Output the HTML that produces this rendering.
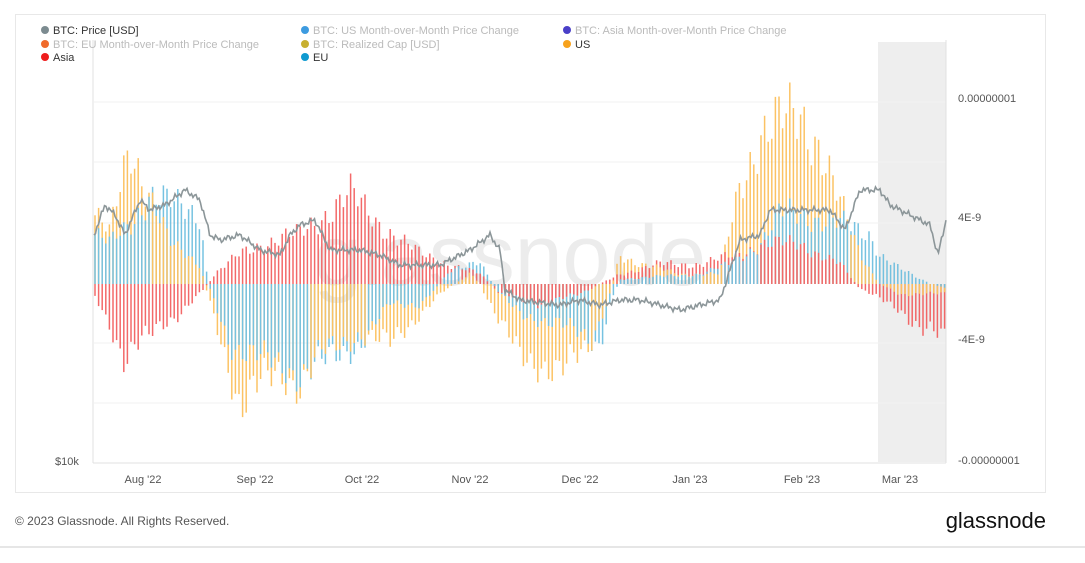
<!DOCTYPE html>
<html><head><meta charset="utf-8"><style>
body{margin:0;width:1085px;height:563px;background:#fff;font-family:"Liberation Sans",sans-serif;overflow:hidden;position:relative}
.card{position:absolute;left:15px;top:14px;width:1031px;height:479px;border:1px solid #e8e8e8;box-sizing:border-box}
.lg{position:absolute;font-size:11px;color:#333;white-space:nowrap}
.lg i{display:inline-block;width:8px;height:8px;border-radius:50%;margin-right:4px;vertical-align:-0px}
.f{color:#bbb}
</style></head><body>
<div class="card"></div>
<svg width="1085" height="563" style="position:absolute;left:0;top:0" id="s">
<rect x="878" y="42" width="68" height="420" fill="#eeeeee"/>
<g stroke="#f2f2f2" stroke-width="1">
<line x1="94" x2="946" y1="102" y2="102"/><line x1="94" x2="946" y1="162" y2="162"/><line x1="94" x2="946" y1="223" y2="223"/><line x1="94" x2="946" y1="343" y2="343"/><line x1="94" x2="946" y1="403" y2="403"/>
</g>
<line x1="93" x2="93" y1="40" y2="463" stroke="#e0e0e0"/>
<line x1="946" x2="946" y1="40" y2="463" stroke="#e0e0e0"/>
<line x1="93" x2="946" y1="463" y2="463" stroke="#e0e0e0"/>
<text x="510" y="285" font-size="86" fill="#ececec" text-anchor="middle" font-family="Liberation Sans,sans-serif">glassnode</text>
<g id="bars" opacity="0.85"></g>
<polyline id="pl" fill="none" stroke="#8c9699" stroke-width="1.6"/>
<g font-size="11" fill="#555">
<text x="958" y="102">0.00000001</text><text x="958" y="221">4E-9</text><text x="958" y="343">-4E-9</text><text x="958" y="464">-0.00000001</text>
<text x="55" y="465">$10k</text>
<g text-anchor="middle"><text x="143" y="483">Aug '22</text><text x="255" y="483">Sep '22</text><text x="362" y="483">Oct '22</text><text x="470" y="483">Nov '22</text><text x="580" y="483">Dec '22</text><text x="690" y="483">Jan '23</text><text x="802" y="483">Feb '23</text><text x="900" y="483">Mar '23</text></g>
</g>
<text x="15" y="525" font-size="12" fill="#555">© 2023 Glassnode. All Rights Reserved.</text>
<text x="1046" y="528" font-size="22" fill="#111" text-anchor="end">glassnode</text>
<line x1="0" x2="1085" y1="547" y2="547" stroke="#ccc"/>
</svg>
<div class="lg" style="left:41px;top:25px"><i style="background:#7c8b90"></i>BTC: Price [USD]</div>
<div class="lg f" style="left:301px;top:25px"><i style="background:#3d9be0"></i>BTC: US Month-over-Month Price Change</div>
<div class="lg f" style="left:563px;top:25px"><i style="background:#4a3fc8"></i>BTC: Asia Month-over-Month Price Change</div>
<div class="lg f" style="left:41px;top:39px"><i style="background:#f06a2a"></i>BTC: EU Month-over-Month Price Change</div>
<div class="lg f" style="left:301px;top:39px"><i style="background:#c8b030"></i>BTC: Realized Cap [USD]</div>
<div class="lg" style="left:563px;top:39px"><i style="background:#f7a21c"></i>US</div>
<div class="lg" style="left:41px;top:52px"><i style="background:#ee1c1c"></i>Asia</div>
<div class="lg" style="left:301px;top:52px"><i style="background:#0f9ad0"></i>EU</div>
<script>
function interp(k,x){for(let i=0;i<k.length-1;i++){if(x>=k[i][0]&&x<=k[i+1][0]){let t=(x-k[i][0])/(k[i+1][0]-k[i][0]);return k[i][1]+t*(k[i+1][1]-k[i][1]);}}return k[k.length-1][1];}
const EU=[[94,50],[110,40],[130,60],[150,90],[170,80],[200,70],[208,0],[230,-60],[250,-70],[280,-80],[300,-90],[330,-75],[360,-60],[390,-20],[420,-20],[440,0],[450,15],[480,20],[500,-10],[520,-30],[560,-40],[600,-60],[610,-20],[620,5],[700,10],[730,20],[760,40],[780,70],[800,70],[840,60],[870,50],[880,30],[900,15],[920,5],[946,-5]];
const AS=[[94,-10],[110,-40],[125,-80],[140,-60],[160,-40],[180,-30],[200,-10],[215,10],[240,30],[260,40],[300,50],[350,90],[380,60],[420,30],[450,20],[480,10],[500,-10],[540,-20],[580,-10],[620,10],[660,20],[700,20],[740,30],[760,40],[800,40],[840,20],[860,-5],[880,-15],[900,-25],[920,-45],[946,-55]];
const US=[[94,70],[110,50],[130,140],[150,90],[170,40],[200,20],[210,-20],[240,-120],[260,-100],[280,-90],[300,-100],[320,-70],[360,-50],[390,-60],[410,-40],[440,-10],[470,10],[480,0],[500,-40],[520,-70],[560,-90],[590,-60],[610,-10],[620,30],[640,20],[680,10],[720,10],[740,100],[760,150],[800,170],[820,140],[840,80],[860,30],[880,0],[900,-10],[946,-10]];
const cols={eu:"#5fb8dc",as:"#f25050",us:"#fbb84a"};
let g="";let i=0;
for(let x=95;x<945;x+=3.6,i++){
 let n=Math.sin(i*1.7)*0.15+Math.sin(i*0.37)*0.1+1;
 let s=[["us",interp(US,x)*n],["as",interp(AS,x)*n],["eu",interp(EU,x)*n]];
 s.sort((a,b)=>Math.abs(b[1])-Math.abs(a[1]));
 for(const [c,v] of s){if(Math.abs(v)<1)continue;g+=`<line x1="${x.toFixed(1)}" x2="${x.toFixed(1)}" y1="284" y2="${(284-v).toFixed(1)}" stroke="${cols[c]}" stroke-width="1.5"/>`;}
}
document.getElementById("bars").innerHTML=g;
const P=[[94,235],[105,205],[115,215],[125,235],[140,200],[150,210],[165,205],[185,190],[200,200],[210,235],[220,240],[240,235],[260,250],[280,255],[290,235],[300,225],[315,220],[330,250],[360,250],[380,255],[400,265],[420,265],[440,265],[470,250],[490,235],[500,250],[505,290],[520,300],[560,305],[580,300],[600,305],[620,300],[640,300],[660,305],[680,310],[700,305],[720,300],[730,270],[740,240],[760,235],[770,210],[800,210],[830,210],[845,230],[860,190],[880,190],[890,205],[910,215],[930,225],[938,255],[946,220]];
let pts=[];let j=0;for(let x=94;x<=946;x+=1.5,j++){pts.push(x+","+(interp(P,x)+Math.sin(j*2.3)*2+Math.sin(j*0.9)*1.5).toFixed(1));}
document.getElementById("pl").setAttribute("points",pts.join(" "));
</script>
</body></html>
